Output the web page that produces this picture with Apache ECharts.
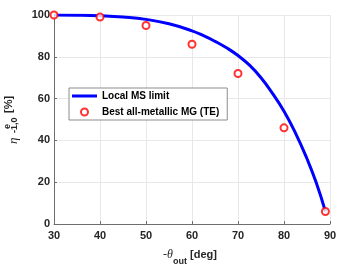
<!DOCTYPE html>
<html>
<head>
<meta charset="utf-8">
<script src="https://cdn.jsdelivr.net/npm/echarts@6/dist/echarts.min.js"></script>
<style>
html,body{margin:0;padding:0;background:#fff;}
#chart{width:346px;height:270px;}
</style>
</head>
<body>
<div id="chart"></div>
<script>
// Local MS limit curve
const limitAngles = [30, 35, 40, 45, 50, 55, 60, 62.5, 65, 67.5, 70, 72.5, 75, 77.5, 80, 82.5, 85, 87, 89];
const limitEff    = [100, 99.9, 99.6, 99.0, 97.9, 95.8, 92.4, 90.1, 87.4, 84.3, 80.6, 76.0, 70.0, 62.5, 54.0, 43.5, 31.2, 19.8, 6.0];
// Best all-metallic MG (TE) points
const mgAngles = [30, 40, 50, 60, 70, 80, 89];
const mgEff    = [100, 99, 95, 86, 72, 46, 6];
// Tick values
const xTicks = [30, 40, 50, 60, 70, 80, 90];
const yTicks = [0, 20, 40, 60, 80, 100];

const seriesNames = ['Local MS limit', 'Best all-metallic MG (TE)'];

const chart = echarts.init(document.getElementById('chart'), null, {renderer: 'canvas'});
const tickFont = {fontFamily: '"Liberation Sans", Arial, sans-serif', fontWeight: 'bold', fontSize: 11, color: '#262626'};
const lineIcon = 'path://M0,0L25,0L25,0.001L0,0.001Z M0,2L25,2L25,5L0,5Z M0,7L25,7L25,7.001L0,7.001Z';

chart.setOption({
  animation: false,
  backgroundColor: '#fff',
  grid: {left: 54, right: 16, top: 15, bottom: 46, containLabel: false},
  xAxis: {
    type: 'value', min: xTicks[0], max: xTicks[xTicks.length - 1], interval: 10,
    axisLine: {show: true, lineStyle: {color: '#6e6e6e', width: 1}},
    axisTick: {show: true, inside: true, length: 3, lineStyle: {color: '#6e6e6e'}},
    axisLabel: Object.assign({margin: 6}, tickFont),
    splitLine: {show: true, lineStyle: {color: '#e8e8e8', width: 1}}
  },
  yAxis: {
    type: 'value', min: yTicks[0], max: yTicks[yTicks.length - 1], interval: 20,
    axisLine: {show: true, lineStyle: {color: '#6e6e6e', width: 1}},
    axisTick: {show: true, inside: true, length: 3, lineStyle: {color: '#6e6e6e'}},
    axisLabel: Object.assign({margin: 4}, tickFont),
    splitLine: {show: true, lineStyle: {color: '#e8e8e8', width: 1}}
  },
  legend: {
    orient: 'vertical', left: 69, top: 88,
    padding: [1, 8, 1, 3], itemGap: 2,
    itemWidth: 25, itemHeight: 7,
    backgroundColor: '#fff', borderColor: '#8c8c8c', borderWidth: 1, borderRadius: 0,
    textStyle: {fontFamily: '"Liberation Sans", Arial, sans-serif', fontWeight: 'bold', fontSize: 10, color: '#000', lineHeight: 14},
    data: [
      {name: seriesNames[0], icon: lineIcon, itemStyle: {color: '#0000ff', borderWidth: 0}},
      {name: seriesNames[1]}
    ]
  },
  series: [
    {
      name: seriesNames[0], type: 'line', smooth: 0.5, showSymbol: false, symbol: 'none',
      lineStyle: {color: '#0000ff', width: 3}, itemStyle: {color: '#0000ff'},
      data: limitAngles.map((a, i) => [a, limitEff[i]]), z: 2
    },
    {
      name: seriesNames[1], type: 'scatter', symbol: 'circle', symbolSize: 7, clip: false,
      itemStyle: {color: '#ffffff', borderColor: '#ff0000', borderWidth: 2},
      data: mgAngles.map((a, i) => [a, mgEff[i]]), z: 3
    }
  ],
  graphic: [
    {
      type: 'group', position: [14, 119], rotation: Math.PI / 2,
      children: [
        {type: 'text', x: -25, y: -0.5, style: {text: 'η', font: 'italic 13px "Liberation Serif", serif', fill: '#262626', textAlign: 'left', textVerticalAlign: 'middle'}},
        {type: 'text', x: -10, y: -6, style: {text: 'e', font: 'bold 9px "Liberation Sans", Arial, sans-serif', fill: '#262626', textAlign: 'left', textVerticalAlign: 'middle'}},
        {type: 'text', x: -14, y: 0.5, style: {text: '-1,0', font: 'bold 9px "Liberation Sans", Arial, sans-serif', fill: '#262626', textAlign: 'left', textVerticalAlign: 'middle'}},
        {type: 'text', x: 6, y: -5.5, style: {text: '[%]', font: 'bold 11px "Liberation Sans", Arial, sans-serif', fill: '#262626', textAlign: 'left', textVerticalAlign: 'middle'}}
      ]
    },
    {type: 'text', x: 163, y: 254.5, style: {text: '-θ', font: 'italic 12px "Liberation Serif", serif', fill: '#262626', textAlign: 'left', textVerticalAlign: 'middle'}},
    {type: 'text', x: 173, y: 262, style: {text: 'out', font: 'bold 9px "Liberation Sans", Arial, sans-serif', fill: '#262626', textAlign: 'left', textVerticalAlign: 'middle'}},
    {type: 'text', x: 190, y: 254.5, style: {text: '[deg]', font: 'bold 11px "Liberation Sans", Arial, sans-serif', fill: '#262626', textAlign: 'left', textVerticalAlign: 'middle'}}
  ]
});
</script>
</body>
</html>
